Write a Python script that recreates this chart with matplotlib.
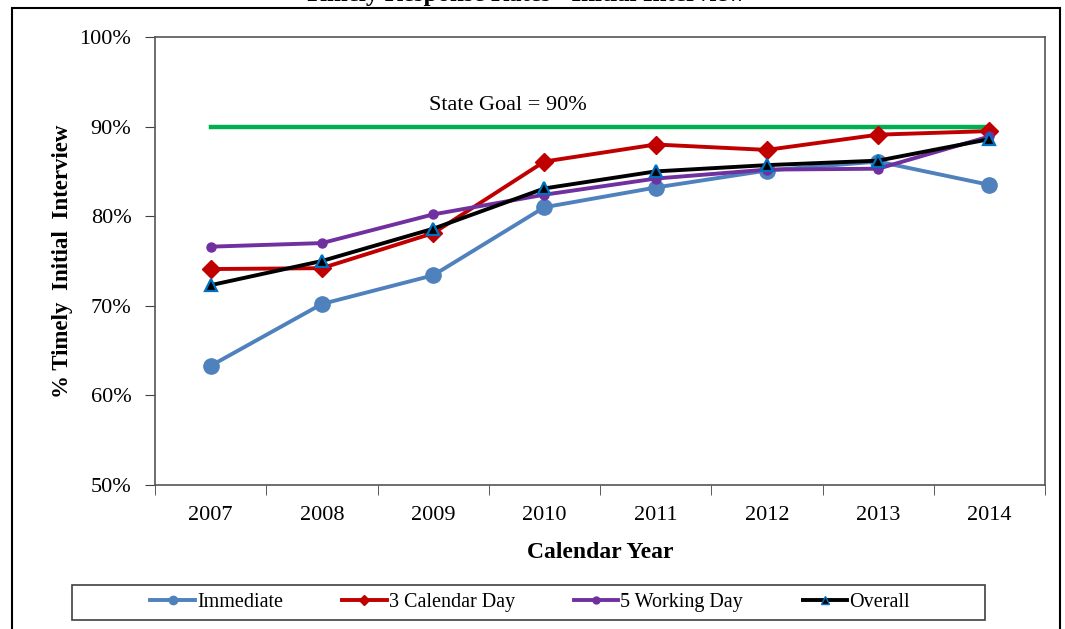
import matplotlib
matplotlib.use("Agg")
import matplotlib.pyplot as plt
from matplotlib.lines import Line2D
from matplotlib.patches import Rectangle
from matplotlib.ticker import FuncFormatter, FixedLocator

plt.rcParams['font.family'] = ['Liberation Serif', 'DejaVu Serif']

years = ['2007', '2008', '2009', '2010', '2011', '2012', '2013', '2014']
immediate = [63.3, 70.2, 73.4, 81.0, 83.2, 85.1, 86.1, 83.5]
cal3 = [74.1, 74.2, 78.1, 86.1, 88.0, 87.4, 89.1, 89.5]
work5 = [76.6, 77.0, 80.2, 82.4, 84.2, 85.2, 85.3, 88.9]
overall = [72.3, 75.0, 78.6, 83.1, 85.0, 85.7, 86.2, 88.6]
state_goal = 90
title = 'Timely Response Rates - Initial Interview'

W, H = 1065, 629
fig = plt.figure(figsize=(W / 100, H / 100), dpi=100)
fig.patch.set_facecolor('white')

# outer frame
fig.add_artist(Rectangle((12 / W, -0.05), (1060 - 12) / W, 1 - 8 / H + 0.05,
                         transform=fig.transFigure, fill=False,
                         edgecolor='black', linewidth=1.5))

ax = fig.add_axes([155 / W, 1 - 485 / H, 890 / W, 448 / H])
x = list(range(len(years)))

ax.plot([x[0], x[-1]], [state_goal, state_goal], color='#00B050', lw=3.2, zorder=2)
ax.text(2.67, 92.3, 'State Goal = 90%', ha='center', va='center', fontsize=16)

ax.plot(x, immediate, color='#4F81BD', lw=2.8, marker='o', ms=11, zorder=3)
ax.plot(x, cal3, color='#C00000', lw=2.8, marker='D', ms=9.5, zorder=4)
ax.plot(x, work5, color='#7030A0', lw=2.8, marker='o', ms=6.5, zorder=5)
ax.plot(x, overall, color='black', lw=2.8, marker='^', ms=8.5,
        markeredgecolor='#0070C0', markeredgewidth=1.6, zorder=6)

ax.set_xlim(-0.5, len(years) - 0.5)
ax.set_ylim(50, 100)
ax.set_xticks(x)
ax.set_xticklabels(years, fontsize=16)
ax.tick_params(axis='x', which='major', length=0, pad=15)
ax.xaxis.set_minor_locator(FixedLocator([i - 0.5 for i in range(len(years) + 1)]))
ax.tick_params(axis='x', which='minor', length=7, direction='out', color='#404040')
ax.set_yticks(range(50, 101, 10))
ax.yaxis.set_major_formatter(FuncFormatter(lambda v, p: f'{int(v)}%'))
ax.tick_params(axis='y', length=7, direction='out', labelsize=16, pad=10, color='#404040')
for s in ax.spines.values():
    s.set_color('#555555')
    s.set_linewidth(1.2)

ax.set_xlabel('Calendar Year', fontsize=17, fontweight='bold', va='center')
ax.xaxis.set_label_coords(0.5, (485 - 553) / 448)
ax.set_ylabel('% Timely  Initial  Interview', fontsize=16.5, fontweight='bold', va='center')
ax.yaxis.set_label_coords((63 - 155) / 890, 0.5)

fig.text(0.493, 1 - 0.5 / H, title, ha='center', va='baseline', fontsize=18, fontweight='bold')

# legend
fig.add_artist(Rectangle((72 / W, 1 - 620 / H), (985 - 72) / W, 35 / H,
                         transform=fig.transFigure, fill=False,
                         edgecolor='#404040', linewidth=1.2))
handles = [
    Line2D([], [], color='#4F81BD', lw=2.8, marker='o', ms=6),
    Line2D([], [], color='#C00000', lw=2.8, marker='D', ms=5),
    Line2D([], [], color='#7030A0', lw=2.8, marker='o', ms=5),
    Line2D([], [], color='black', lw=2.8, marker='^', ms=6,
           markeredgecolor='#0070C0', markeredgewidth=1),
]
labels = ['Immediate', '3 Calendar Day', '5 Working Day', 'Overall']
fig.legend(handles, labels, loc='center', bbox_to_anchor=(530 / W, 1 - 602 / H),
           ncol=4, frameon=False, fontsize=14.5, handlelength=2.2,
           handletextpad=0.1, columnspacing=2.95)

fig.savefig('out.png', dpi=100)
